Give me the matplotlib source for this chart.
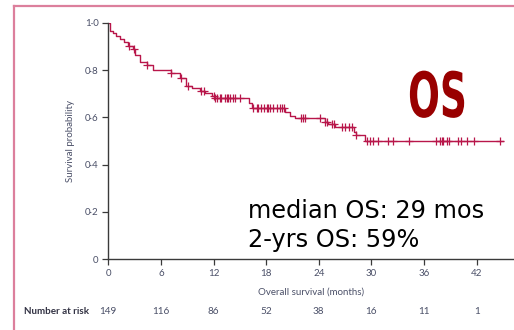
import numpy as np
import matplotlib
matplotlib.use("Agg")
import matplotlib.pyplot as plt
from matplotlib.lines import Line2D
from matplotlib.transforms import blended_transform_factory, Affine2D
from matplotlib.patheffects import AbstractPathEffect

# Kaplan-Meier steps (months, survival)
step_times = [0, 0.15, 0.25, 0.5, 0.9, 1.3, 1.8, 2.3, 2.8, 3.0, 3.6, 4.4, 5.1,
              7.2, 8.2, 8.9, 9.5, 10.5, 11.0, 11.8, 12.2, 16.0, 16.35, 20.1,
              20.7, 21.3, 24.7, 25.1, 25.85, 28.0, 28.3, 29.3]
step_surv = [1.0, 0.98, 0.967, 0.957, 0.944, 0.93, 0.918, 0.90, 0.888, 0.863,
             0.835, 0.821, 0.80, 0.789, 0.765, 0.732, 0.723, 0.713, 0.704,
             0.69, 0.68, 0.66, 0.638, 0.621, 0.606, 0.596, 0.582, 0.572,
             0.558, 0.539, 0.525, 0.501]
end_time = 45.0

censor_times = [2.4, 2.96, 4.4, 7.2, 8.3, 9.1, 10.6, 10.9, 12.0, 12.2, 12.4,
                12.7, 12.9, 13.3, 13.5, 13.7, 13.9, 14.25, 14.4, 15.0, 16.5,
                16.9, 17.1, 17.4, 17.7, 18.1, 18.2, 18.4, 18.8, 19.2, 19.6,
                19.8, 20.0, 22.0, 22.2, 22.4, 24.1, 24.7, 24.9, 25.5, 25.7,
                26.6, 27.0, 27.4, 27.75, 28.3, 29.5, 29.8, 30.2, 30.8, 31.9,
                32.5, 34.3, 37.4, 37.8, 38.0, 38.2, 38.6, 38.8, 39.9, 40.2,
                40.9, 41.7, 44.7]

risk_months = [0, 6, 12, 18, 24, 30, 36, 42]
risk_counts = [149, 116, 86, 52, 38, 16, 11, 1]

y_ticks = [0, 0.2, 0.4, 0.6, 0.8, 1.0]
y_tick_labels = ["0", "0·2", "0·4", "0·6", "0·8", "1·0"]
x_ticks = [0, 6, 12, 18, 24, 30, 36, 42]

curve_color = "#b8164a"
text_gray = "#4b5068"


class Squeeze(AbstractPathEffect):
    """squeeze glyphs horizontally around a display x (poor man's Impact)"""

    def __init__(self, cx, sx):
        super().__init__()
        self.cx = cx
        self.sx = sx

    def draw_path(self, renderer, gc, tpath, affine, rgbFace=None):
        squash = Affine2D().translate(-self.cx, 0).scale(self.sx, 1).translate(self.cx, 0)
        renderer.draw_path(gc, tpath, affine + squash, rgbFace)


W, H = 514, 330
fig = plt.figure(figsize=(W / 100, H / 100), dpi=100)
ax = fig.add_axes([108.3 / W, 1 - 259.3 / H, (W - 108.3) / W, (259.3 - 22.7) / H])

# survival curve
t = np.array(step_times + [end_time])
s = np.array(step_surv + [step_surv[-1]])
ax.step(t, s, where="post", color=curve_color, lw=1.0)

# censor marks at the survival level of each time
idx = np.searchsorted(step_times, censor_times, side="right") - 1
censor_surv = np.array(step_surv)[idx]
ax.plot(censor_times, censor_surv, ls="none", marker="+", ms=6, mew=0.9,
        color=curve_color)

ax.set_xlim(0, (W - 108.3) / 8.77)
ax.set_ylim(0, 1.0)
ax.set_xticks(x_ticks)
ax.set_yticks(y_ticks)
ax.set_yticklabels(y_tick_labels)
for sp in ["top", "right"]:
    ax.spines[sp].set_visible(False)
for sp in ["left", "bottom"]:
    ax.spines[sp].set_color("#3a3a3a")
    ax.spines[sp].set_linewidth(1.0)
ax.tick_params(axis="both", direction="out", length=4, width=0.9,
               color="#3a3a3a", labelsize=7, labelcolor=text_gray, pad=3)
for lbl in ax.get_xticklabels() + ax.get_yticklabels():
    lbl.set_family("Lato")

ax.set_ylabel("Survival probability", fontsize=7, color=text_gray,
              family="Lato", labelpad=7)
ax.set_xlabel("Overall survival (months)", fontsize=7, color=text_gray,
              family="Lato", labelpad=7)

# number at risk row
tr = blended_transform_factory(ax.transData, fig.transFigure)
y_risk = 1 - 311 / H
for m, n in zip(risk_months, risk_counts):
    ax.text(m, y_risk, str(n), transform=tr, ha="center", va="center",
            fontsize=7.2, color=text_gray, family="Lato", clip_on=False)
fig.text(24 / W, y_risk, "Number at risk", ha="left", va="center",
         fontsize=7.1, color="#333344", family="Lato", weight="bold")

# annotations
fig.text(248 / W, 1 - 211.5 / H, "median OS: 29 mos", fontsize=17.3,
         color="black", ha="left", va="center")
fig.text(248 / W, 1 - 240 / H, "2-yrs OS: 59%", fontsize=17.3,
         color="black", ha="left", va="center")
os_cx = 437.5
fig.text(os_cx / W, 1 - 100 / H, "OS", fontsize=45, weight="heavy",
         color="#990000", ha="center", va="center",
         path_effects=[Squeeze(os_cx, 0.6)])

# pink frame
frame_color = "#dc7f9c"
fig.add_artist(Line2D([14 / W, 14 / W], [0, 1 - 5.7 / H],
                      transform=fig.transFigure, color=frame_color, lw=1.6))
fig.add_artist(Line2D([14 / W, 1], [1 - 5.7 / H, 1 - 5.7 / H],
                      transform=fig.transFigure, color=frame_color, lw=1.6))

fig.savefig("out.png", dpi=100)
